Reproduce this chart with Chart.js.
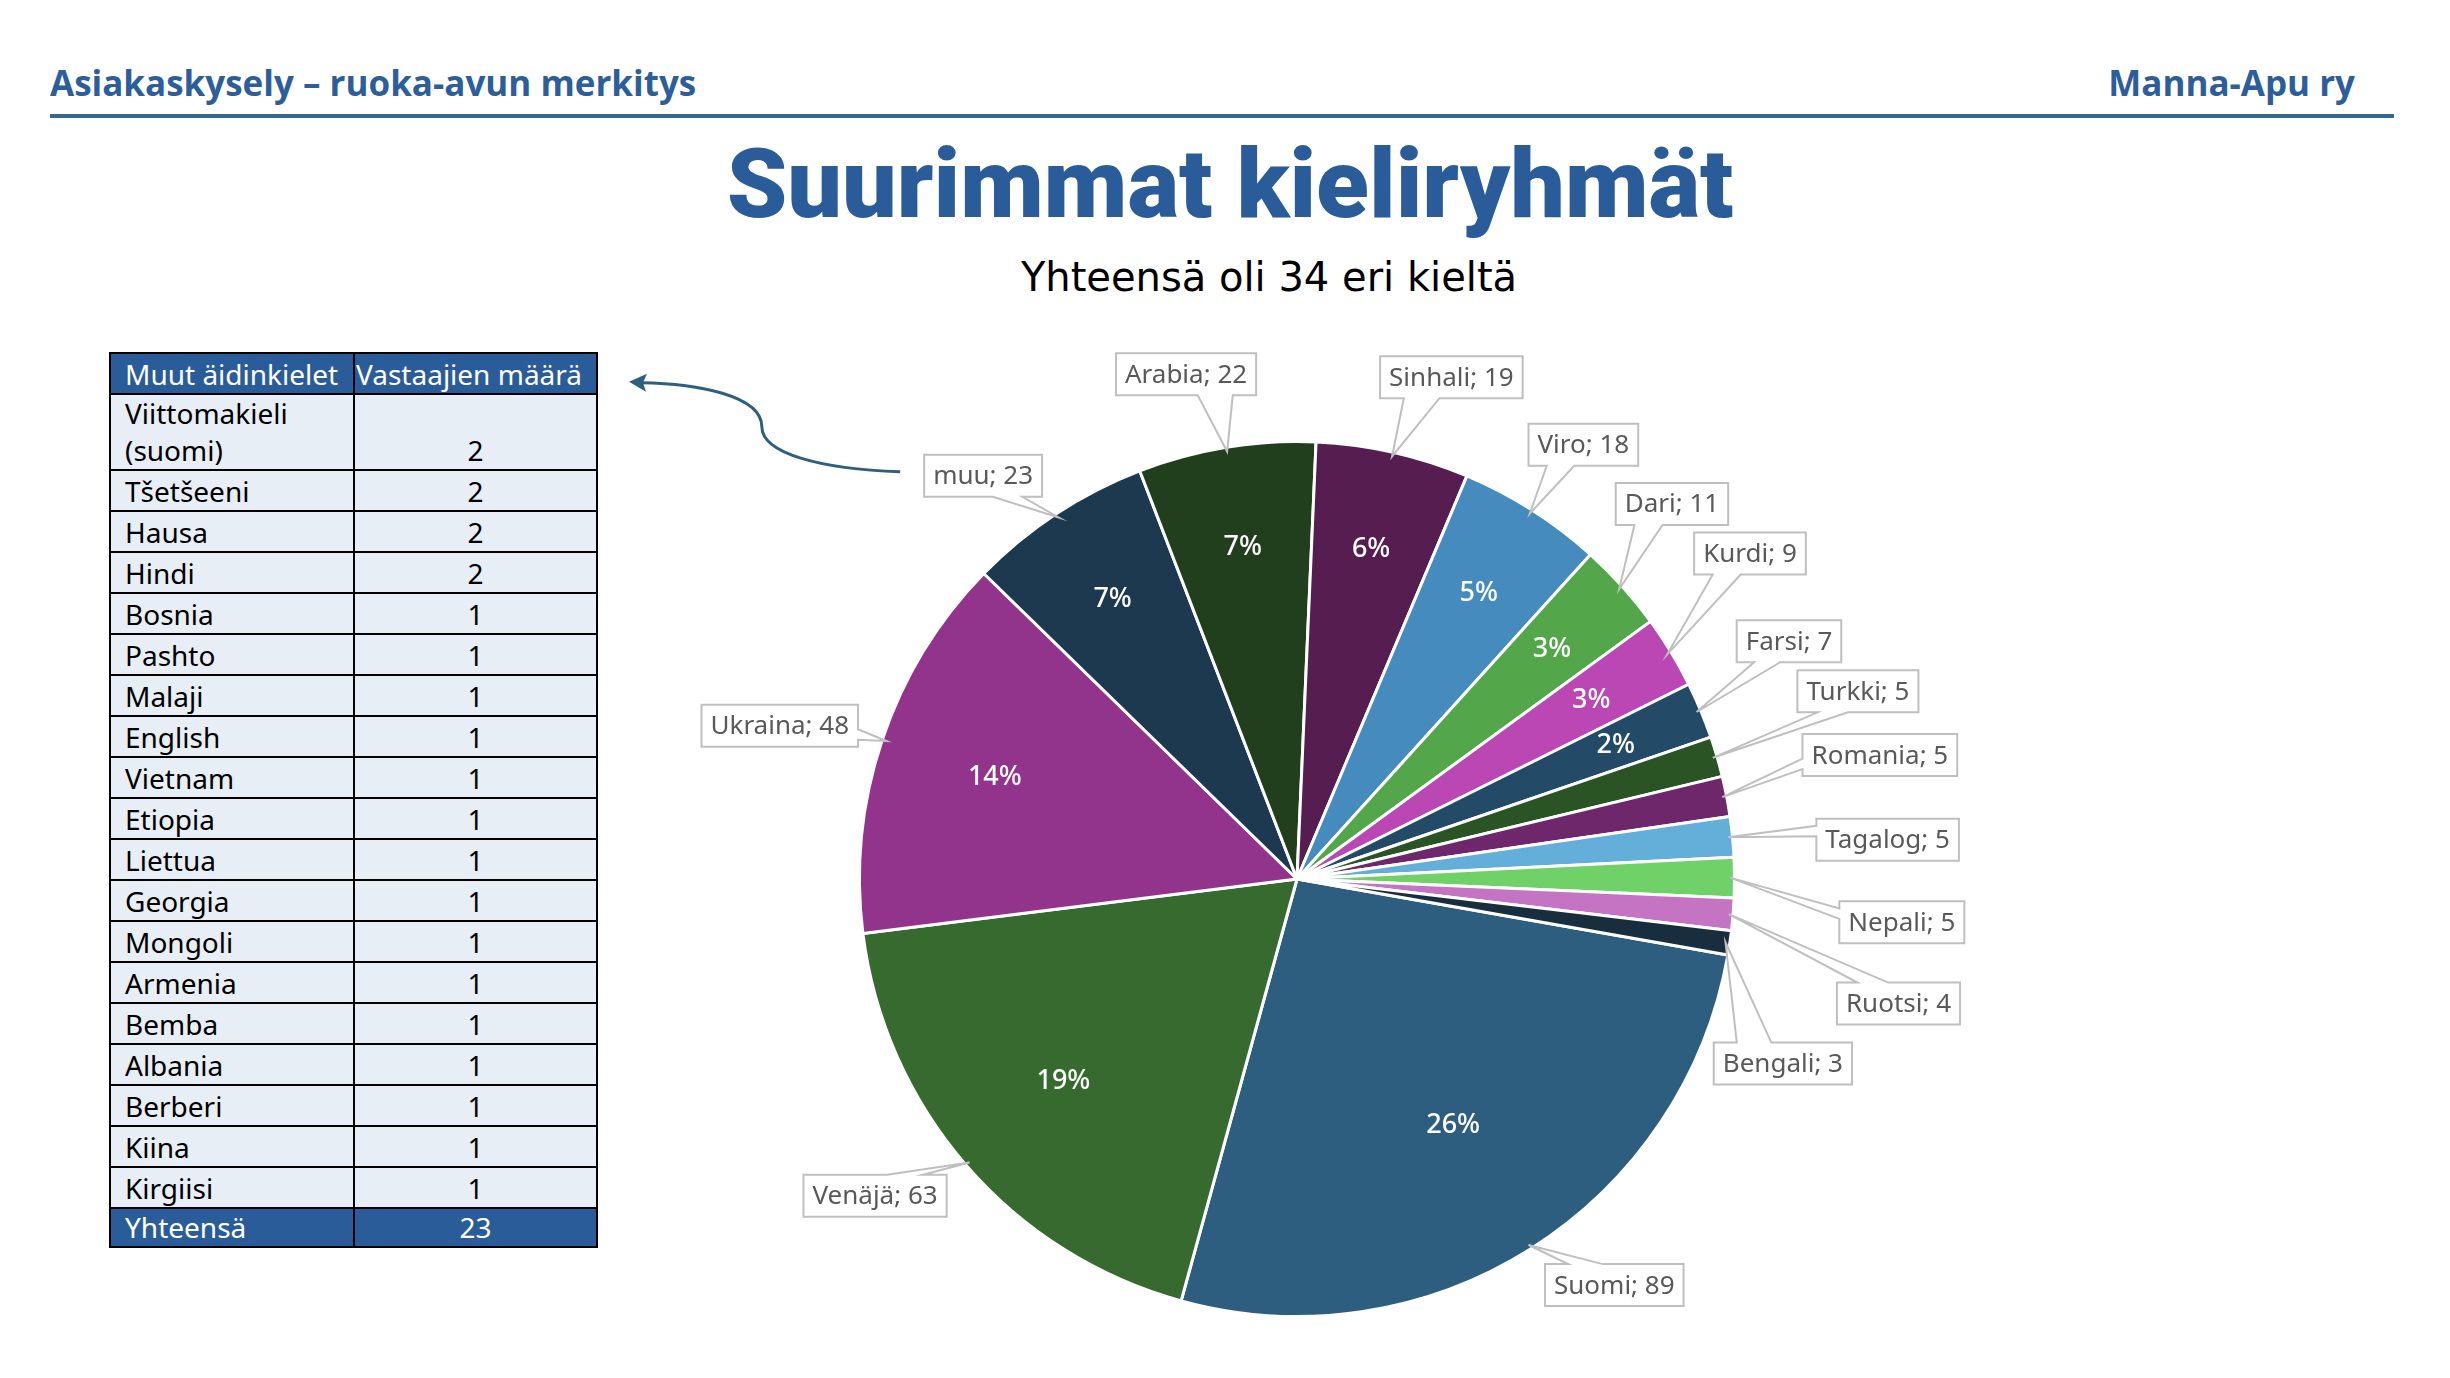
<!DOCTYPE html>
<html lang="fi">
<head>
    <meta charset="UTF-8">
    <title>Suurimmat kieliryhmät</title>
    <script src="https://cdn.jsdelivr.net/npm/chart.js"></script>
    <style>
        html, body { margin: 0; padding: 0; }
        body { width: 2450px; height: 1378px; position: relative; overflow: hidden; background: #fff; font-family: "Noto Sans", sans-serif; }
        #topLeft { position: absolute; left: 50px; top: 59px; font: 700 35px "Open Sans", sans-serif; color: #2C5E9B; white-space: nowrap; }
        #topRight { position: absolute; right: 95px; top: 59px; font: 700 35px "Open Sans", sans-serif; color: #2C5E9B; white-space: nowrap; }
        #rule { position: absolute; left: 50px; top: 114px; width: 2344px; height: 4px; background: #36678F; }
        #title { position: absolute; left: 1230px; top: 127px; transform: translateX(-50%); font: 900 97px "Roboto", sans-serif; color: #2B5C9A; white-space: nowrap; }
        #subtitle { position: absolute; left: 1269px; top: 254px; transform: translateX(-50%); font: 40px "DejaVu Sans", sans-serif; color: #000; white-space: nowrap; }
        #langTable { position: absolute; left: 109px; top: 352px; width: 487px; border-collapse: collapse; table-layout: fixed; font-size: 28px; }
        #langTable th, #langTable td { border: 2px solid #000; height: 41px; box-sizing: border-box; padding: 0 6px 0 14px; vertical-align: bottom; line-height: 37px; font-weight: 400; }
        #langTable th { background: #2B5C9A; color: #fff; text-align: left; white-space: nowrap; padding-left: 14px; padding-right: 0; }
        #langTable th:nth-child(2) { padding-left: 1px; }
        #langTable td { background: #E8EEF6; color: #000; }
        #langTable td.num { text-align: center; padding-left: 0; padding-right: 0; }
        #langTable tfoot td { background: #2B5C9A; color: #fff; height: 39px; }
        #chartBox { position: absolute; left: 598px; top: 330px; width: 1438px; height: 1048px; }
    </style>
</head>
<body>
    <div id="topLeft">Asiakaskysely – ruoka-avun merkitys</div>
    <div id="topRight">Manna-Apu ry</div>
    <div id="rule"></div>
    <div id="title">Suurimmat kieliryhmät</div>
    <div id="subtitle">Yhteensä oli 34 eri kieltä</div>

    <table id="langTable">
        <colgroup><col style="width:244px"><col style="width:243px"></colgroup>
        <thead><tr><th>Muut äidinkielet</th><th>Vastaajien määrä</th></tr></thead>
        <tbody></tbody>
        <tfoot><tr><td>Yhteensä</td><td class="num" id="otherTotal"></td></tr></tfoot>
    </table>

    <div id="chartBox">
        <canvas id="langChart"></canvas>
    </div>

    <script>
        // pie data, largest first (Excel order, clockwise)
        const langLabels = ['Suomi', 'Venäjä', 'Ukraina', 'muu', 'Arabia', 'Sinhali', 'Viro', 'Dari',
                            'Kurdi', 'Farsi', 'Turkki', 'Romania', 'Tagalog', 'Nepali', 'Ruotsi', 'Bengali'];
        const langCounts = [89, 63, 48, 23, 22, 19, 18, 11, 9, 7, 5, 5, 5, 5, 4, 3];

        // the "muu" group broken down in the side table
        const otherLangs = ['Viittomakieli (suomi)', 'Tšetšeeni', 'Hausa', 'Hindi', 'Bosnia', 'Pashto', 'Malaji',
                            'English', 'Vietnam', 'Etiopia', 'Liettua', 'Georgia', 'Mongoli', 'Armenia', 'Bemba',
                            'Albania', 'Berberi', 'Kiina', 'Kirgiisi'];
        const otherCounts = [2, 2, 2, 2, 1, 1, 1, 1, 1, 1, 1, 1, 1, 1, 1, 1, 1, 1, 1];

        const sliceColors = ['#2E5E7F', '#376A2F', '#92348B', '#1C394F', '#213F1D', '#561D51', '#458BBD', '#53A74A',
                             '#BB47B5', '#234A67', '#2B5424', '#6F276B', '#64AEDA', '#71D169', '#C574C4', '#182E3F'];

        // where each callout box sits: [angle in degrees clockwise from top, distance in pie radii]
        const calloutPlace = [[142.0, 1.178], [233.1, 1.206], [286.5, 1.233], [322.1, 1.168], [347.6, 1.181],
                              [17.1, 1.20], [33.4, 1.189], [45.0, 1.212], [54.3, 1.275], [64.2, 1.249],
                              [71.5, 1.352], [78.0, 1.362], [86.2, 1.353], [94.1, 1.386], [101.7, 1.404], [110.8, 1.188]];

        function fillTable() {
            const body = document.querySelector('#langTable tbody');
            otherLangs.forEach((name, i) => {
                const tr = document.createElement('tr');
                const a = document.createElement('td');
                a.textContent = name;
                const b = document.createElement('td');
                b.className = 'num';
                b.textContent = otherCounts[i];
                tr.appendChild(a);
                tr.appendChild(b);
                body.appendChild(tr);
            });
            document.getElementById('otherTotal').textContent = otherCounts.reduce((s, v) => s + v, 0);
        }

        // Excel-like wedge callout: box with a pointer running to (tx, ty)
        function calloutPath(ctx, l, t, w, h, tx, ty) {
            const r = l + w, b = t + h;
            const dx = (tx - (l + w / 2)) / w, dy = (ty - (t + h / 2)) / h;
            let side = 'none';
            if (Math.abs(dx) > 0.5 || Math.abs(dy) > 0.5) {
                side = Math.abs(dy) > Math.abs(dx) ? (dy < 0 ? 'top' : 'bottom') : (dx < 0 ? 'left' : 'right');
            }
            const ax = dx > 0 ? [7 / 12, 10 / 12] : [2 / 12, 5 / 12];
            const ay = dy > 0 ? [7 / 12, 10 / 12] : [2 / 12, 5 / 12];
            ctx.beginPath();
            ctx.moveTo(l, t);
            if (side === 'top') { ctx.lineTo(l + w * ax[0], t); ctx.lineTo(tx, ty); ctx.lineTo(l + w * ax[1], t); }
            ctx.lineTo(r, t);
            if (side === 'right') { ctx.lineTo(r, t + h * ay[0]); ctx.lineTo(tx, ty); ctx.lineTo(r, t + h * ay[1]); }
            ctx.lineTo(r, b);
            if (side === 'bottom') { ctx.lineTo(l + w * ax[1], b); ctx.lineTo(tx, ty); ctx.lineTo(l + w * ax[0], b); }
            ctx.lineTo(l, b);
            if (side === 'left') { ctx.lineTo(l, t + h * ay[1]); ctx.lineTo(tx, ty); ctx.lineTo(l, t + h * ay[0]); }
            ctx.closePath();
        }

        const pieLabels = {
            id: 'pieLabels',
            afterDatasetsDraw(chart) {
                const ctx = chart.ctx;
                const arcs = chart.getDatasetMeta(0).data;
                const total = langCounts.reduce((s, v) => s + v, 0);
                let muuBox = null;

                ctx.save();
                // percentages inside the slices
                ctx.font = '500 27px "Noto Sans"';
                ctx.fillStyle = '#FFFFFF';
                ctx.textAlign = 'center';
                ctx.textBaseline = 'middle';
                arcs.forEach((arc, i) => {
                    const pct = Math.round(langCounts[i] / total * 100);
                    if (pct < 2) return;
                    const p = arc.getProps(['x', 'y', 'startAngle', 'endAngle', 'outerRadius'], true);
                    const mid = (p.startAngle + p.endAngle) / 2;
                    const f = 0.8 - 0.5 * langCounts[i] / total;
                    ctx.fillText(pct + '%', p.x + Math.cos(mid) * p.outerRadius * f, p.y + Math.sin(mid) * p.outerRadius * f);
                });

                // callouts "name; value"
                ctx.font = '26px "Noto Sans"';
                ctx.lineWidth = 2;
                ctx.strokeStyle = '#BFBFBF';
                arcs.forEach((arc, i) => {
                    const p = arc.getProps(['x', 'y', 'startAngle', 'endAngle', 'outerRadius'], true);
                    const mid = (p.startAngle + p.endAngle) / 2;
                    const tx = p.x + Math.cos(mid) * p.outerRadius * 0.99;
                    const ty = p.y + Math.sin(mid) * p.outerRadius * 0.99;
                    const a = calloutPlace[i][0] * Math.PI / 180;
                    const cx = p.x + Math.sin(a) * p.outerRadius * calloutPlace[i][1];
                    const cy = p.y - Math.cos(a) * p.outerRadius * calloutPlace[i][1];
                    const text = langLabels[i] + '; ' + langCounts[i];
                    const w = ctx.measureText(text).width + 18;
                    const h = 42;
                    calloutPath(ctx, cx - w / 2, cy - h / 2, w, h, tx, ty);
                    ctx.fillStyle = '#FFFFFF';
                    ctx.fill();
                    ctx.stroke();
                    ctx.fillStyle = '#595959';
                    ctx.fillText(text, cx, cy + 1);
                    if (langLabels[i] === 'muu') muuBox = { l: cx - w / 2, cy: cy };
                });

                // curved arrow from the "muu" callout to the table
                if (muuBox) {
                    const cr = chart.canvas.getBoundingClientRect();
                    const tr = document.getElementById('langTable').getBoundingClientRect();
                    const head = document.querySelector('#langTable th').getBoundingClientRect();
                    const sx = muuBox.l - 24, sy = muuBox.cy - 4;
                    const ex = tr.right - cr.left + 31, ey = head.top + head.height * 0.7 - cr.top;
                    const dx = sx - ex, dy = sy - ey;
                    const mx = ex + 0.49 * dx, my = ey + 0.5 * dy;
                    ctx.strokeStyle = '#2E5F80';
                    ctx.fillStyle = '#2E5F80';
                    ctx.lineWidth = 3;
                    ctx.beginPath();
                    ctx.moveTo(sx, sy);
                    ctx.bezierCurveTo(sx - 0.29 * dx, sy - 0.03 * dy, mx, my + 0.3 * dy, mx, my);
                    ctx.bezierCurveTo(mx, my - 0.35 * dy, ex + 0.25 * dx, ey + 0.02 * dy, ex + 12, ey + 1);
                    ctx.stroke();
                    ctx.beginPath();
                    ctx.moveTo(ex, ey);
                    ctx.lineTo(ex + 18, ey - 8);
                    ctx.lineTo(ex + 14, ey + 1);
                    ctx.lineTo(ex + 17, ey + 10);
                    ctx.closePath();
                    ctx.fill();
                }
                ctx.restore();
            }
        };

        function initChart() {
            const ctx = document.getElementById('langChart').getContext('2d');
            new Chart(ctx, {
                type: 'pie',
                data: {
                    labels: langLabels,
                    datasets: [{
                        data: langCounts,
                        backgroundColor: sliceColors,
                        borderColor: '#FFFFFF',
                        borderWidth: 3,
                        hoverOffset: 0
                    }]
                },
                options: {
                    responsive: true,
                    maintainAspectRatio: false,
                    animation: false,
                    rotation: 100,
                    layout: { padding: { left: 260, right: 300, top: 110, bottom: 60 } },
                    plugins: {
                        legend: { display: false },
                        tooltip: { enabled: false }
                    }
                },
                plugins: [pieLabels]
            });
        }

        document.addEventListener('DOMContentLoaded', () => {
            fillTable();
            initChart();
        });
    </script>
</body>
</html>
